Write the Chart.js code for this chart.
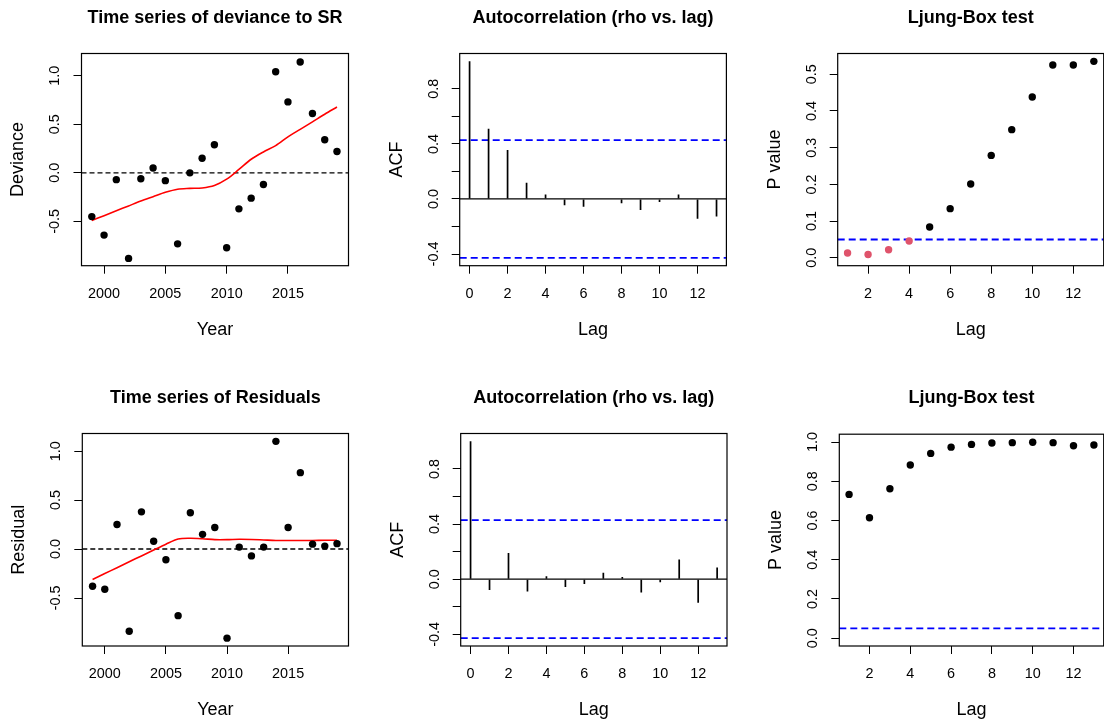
<!DOCTYPE html>
<html lang="en">
<head>
<meta charset="UTF-8">
<title>Deviance and residual diagnostics</title>
<script src="https://cdn.jsdelivr.net/npm/chart.js"></script>
<style>
  html, body { margin: 0; padding: 0; background: #fff; overflow: hidden; }
  #wrap { position: relative; width: 1104px; height: 722px; overflow: hidden; }
  #wrap canvas { position: absolute; }
</style>
</head>
<body>
<div id="wrap">
  <canvas id="c1" width="378" height="342" style="left:0px;top:0px"></canvas>
  <canvas id="c2" width="378" height="342" style="left:378px;top:0px"></canvas>
  <canvas id="c3" width="378" height="342" style="left:756px;top:0px"></canvas>
  <canvas id="c4" width="378" height="342" style="left:0px;top:380px"></canvas>
  <canvas id="c5" width="378" height="342" style="left:378px;top:380px"></canvas>
  <canvas id="c6" width="378" height="342" style="left:756px;top:380px"></canvas>
</div>

<script>
// ---- values ----
const years = [1999, 2000, 2001, 2002, 2003, 2004, 2005, 2006, 2007, 2008, 2009,
               2010, 2011, 2012, 2013, 2014, 2015, 2016, 2017, 2018, 2019];
const deviance = [-0.45, -0.64, -0.07, -0.88, -0.06, 0.05, -0.08, -0.73, 0.00, 0.15, 0.29,
                  -0.77, -0.37, -0.26, -0.12, 1.04, 0.73, 1.14, 0.61, 0.34, 0.22];
const devianceSmooth = [-0.49, -0.44, -0.39, -0.34, -0.29, -0.245, -0.2, -0.168, -0.16, -0.155, -0.13,
                        -0.065, 0.035, 0.14, 0.215, 0.28, 0.37, 0.448, 0.525, 0.603, 0.677];
const residuals = [-0.38, -0.41, 0.25, -0.84, 0.38, 0.08, -0.11, -0.68, 0.37, 0.15, 0.22,
                   -0.91, 0.02, -0.07, 0.02, 1.10, 0.22, 0.78, 0.05, 0.03, 0.055];
const residualSmooth = [-0.31, -0.25, -0.19, -0.13, -0.07, -0.01, 0.05, 0.103, 0.11, 0.105, 0.096,
                        0.096, 0.1, 0.098, 0.093, 0.088, 0.087, 0.087, 0.088, 0.09, 0.09];

const lags = [0, 1, 2, 3, 4, 5, 6, 7, 8, 9, 10, 11, 12, 13];
const acfDeviance = [1.0, 0.51, 0.355, 0.117, 0.032, -0.046, -0.056, 0.003, -0.032, -0.08, -0.022, 0.032, -0.144, -0.127];
const acfResidual = [1.0, -0.078, 0.189, -0.09, 0.022, -0.056, -0.036, 0.046, 0.015, -0.097, -0.022, 0.143, -0.172, 0.085];
const acfBound = 0.428;

const lbLags = [1, 2, 3, 4, 5, 6, 7, 8, 9, 10, 11, 12, 13];
const lbDeviance = [0.013, 0.009, 0.022, 0.046, 0.084, 0.134, 0.201, 0.279, 0.349, 0.438, 0.525, 0.525, 0.535];
const lbResidual = [0.733, 0.614, 0.762, 0.883, 0.942, 0.974, 0.988, 0.995, 0.997, 0.999, 0.997, 0.981, 0.985];
const pLimit = 0.05;

// axis limits and ticks
const yearRange = [1998.16, 2019.94];
const lagRange = [-0.52, 13.52];
const lbLagRange = [0.52, 13.48];
const devRange = [-0.955, 1.228];
const resRange = [-0.99, 1.18];
const acfRange = [-0.485, 1.057];
const lbDevRange = [-0.0214, 0.5564];
const lbResRange = [-0.04, 1.04];

const yearTicks = [2000, 2005, 2010, 2015];
const lagTicks = [0, 2, 4, 6, 8, 10, 12];
const lbLagTicks = [2, 4, 6, 8, 10, 12];
const devTicks = [-0.5, 0, 0.5, 1];
const acfTicks = [-0.4, -0.2, 0, 0.2, 0.4, 0.6, 0.8];
const acfTickLabels = ['-0.4', '', '0.0', '', '0.4', '', '0.8'];
const lbDevTicks = [0, 0.1, 0.2, 0.3, 0.4, 0.5];
const lbResTicks = [0, 0.2, 0.4, 0.6, 0.8, 1];

// ---- drawing ----
const FONT = "'Liberation Sans', Arial, Helvetica, sans-serif";
Chart.defaults.font.family = FONT;
Chart.defaults.color = '#000';

const W = 378, H = 342;
const TICK = 14.4, LAB = 18, TICKLEN = 8;
const RED_PT = '#DF536B';
const DOT = 3.7;

const measure = document.createElement('canvas').getContext('2d');
function widest(labels) {
  measure.font = TICK + 'px ' + FONT;
  return Math.max(...labels.map(s => measure.measureText(s).width));
}

// R-style box round the plot region
const boxPlugin = {
  id: 'box',
  afterDraw(chart) {
    const a = chart.chartArea, ctx = chart.ctx;
    ctx.save();
    ctx.strokeStyle = '#000';
    ctx.lineWidth = 1.2;
    ctx.strokeRect(a.left, a.top, a.right - a.left, a.bottom - a.top);
    ctx.restore();
  }
};

function pts(xs, ys) {
  return xs.map((x, i) => ({ x: x, y: ys[i] }));
}

function hline(range, v, color, width, dash) {
  return {
    type: 'line',
    data: [{ x: range[0], y: v }, { x: range[1], y: v }],
    borderColor: color, borderWidth: width, borderDash: dash,
    pointRadius: 0, fill: false
  };
}

function panel(id, box, spec) {
  const [l, t, r, b] = box;
  const yLabels = spec.y.labels || spec.y.ticks.map(v => v.toFixed(1));
  const yPad = 26 - TICKLEN - widest(yLabels.filter(s => s)) / 2;
  const titleTop = 17.8 - LAB * 0.6;
  const grid = { drawOnChartArea: false, drawTicks: true, tickLength: TICKLEN, tickColor: '#000', tickWidth: 1, offset: false };

  return new Chart(document.getElementById(id), {
    type: spec.type,
    data: { datasets: spec.datasets },
    plugins: [boxPlugin],
    options: {
      responsive: false,
      animation: false,
      devicePixelRatio: 1,
      layout: { padding: { left: 0, top: 0, right: W - r, bottom: 0 } },
      plugins: {
        legend: { display: false },
        tooltip: { enabled: false },
        title: {
          display: true, text: spec.title, fullSize: false, color: '#000',
          font: { size: LAB, weight: 'bold' },
          padding: { top: titleTop, bottom: t - titleTop - LAB * 1.2 }
        }
      },
      scales: {
        x: {
          type: 'linear', min: spec.x.range[0], max: spec.x.range[1], bounds: 'data', offset: false,
          afterBuildTicks: s => { s.ticks = spec.x.ticks.map(v => ({ value: v })); },
          afterFit: s => { s.height = H - b; },
          grid: grid,
          border: { display: false },
          ticks: { autoSkip: false, minRotation: 0, maxRotation: 0, padding: 28 - TICKLEN - TICK * 0.6,
                   font: { size: TICK }, color: '#000', callback: v => String(v) },
          title: { display: true, text: spec.x.title, color: '#000', font: { size: LAB },
                   padding: { top: 0, bottom: H - (b + 64) - LAB * 0.6 } }
        },
        y: {
          type: 'linear', min: spec.y.range[0], max: spec.y.range[1], bounds: 'data',
          afterBuildTicks: s => { s.ticks = spec.y.ticks.map(v => ({ value: v })); },
          afterFit: s => { s.width = l; },
          grid: grid,
          border: { display: false },
          ticks: { autoSkip: false, minRotation: 90, maxRotation: 90, crossAlign: 'center', padding: yPad,
                   font: { size: TICK }, color: '#000', callback: (v, i) => yLabels[i] },
          title: { display: true, text: spec.y.title, color: '#000', font: { size: LAB },
                   padding: { top: l - 63 - LAB * 0.6, bottom: 0 } }
        }
      }
    }
  });
}

function seriesPanel(id, box, title, yTitle, values, smooth, range) {
  panel(id, box, {
    type: 'scatter',
    title: title,
    x: { range: yearRange, ticks: yearTicks, title: 'Year' },
    y: { range: range, ticks: devTicks, title: yTitle },
    datasets: [
      { type: 'scatter', data: pts(years, values), pointRadius: DOT, pointBackgroundColor: '#000', pointBorderWidth: 0, showLine: false },
      { type: 'line', data: pts(years, smooth), borderColor: '#FF0000', borderWidth: 1.6, pointRadius: 0, tension: 0.3, fill: false },
      hline(yearRange, 0, '#000', 1.4, [5, 3])
    ]
  });
}

function acfPanel(id, box, values) {
  panel(id, box, {
    type: 'bar',
    title: 'Autocorrelation (rho vs. lag)',
    x: { range: lagRange, ticks: lagTicks, title: 'Lag' },
    y: { range: acfRange, ticks: acfTicks, labels: acfTickLabels, title: 'ACF' },
    datasets: [
      { type: 'bar', data: pts(lags, values), backgroundColor: '#000', borderWidth: 0, grouped: false, maxBarThickness: 1.7 },
      hline(lagRange, 0, '#000', 1.2, []),
      hline(lagRange, acfBound, '#0000FF', 1.8, [7, 4]),
      hline(lagRange, -acfBound, '#0000FF', 1.8, [7, 4])
    ]
  });
}

function lbPanel(id, box, values, range, ticks) {
  panel(id, box, {
    type: 'scatter',
    title: 'Ljung-Box test',
    x: { range: lbLagRange, ticks: lbLagTicks, title: 'Lag' },
    y: { range: range, ticks: ticks, title: 'P value' },
    datasets: [
      { type: 'scatter', data: pts(lbLags, values), pointRadius: DOT, pointBorderWidth: 0, showLine: false,
        pointBackgroundColor: values.map(p => p < pLimit ? RED_PT : '#000') },
      hline(lbLagRange, pLimit, '#0000FF', 1.8, [7, 4])
    ]
  });
}

seriesPanel('c1', [81.5, 53.5, 348.5, 265.7], 'Time series of deviance to SR', 'Deviance', deviance, devianceSmooth, devRange);
acfPanel('c2', [81.7, 53.5, 348.4, 265.7], acfDeviance);
lbPanel('c3', [81.7, 53.5, 347.7, 265.7], lbDeviance, lbDevRange, lbDevTicks);
seriesPanel('c4', [82.3, 53.5, 348.5, 266], 'Time series of Residuals', 'Residual', residuals, residualSmooth, resRange);
acfPanel('c5', [82.7, 53.5, 349, 266], acfResidual);
lbPanel('c6', [83.3, 54.2, 347.7, 266], lbResidual, lbResRange, lbResTicks);
</script>
</body>
</html>
